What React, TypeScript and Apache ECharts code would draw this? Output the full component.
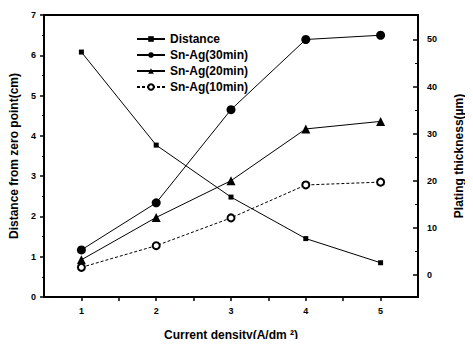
import React, { useEffect, useRef } from "react";
import * as echarts from "echarts";

const currentDensity = [1, 2, 3, 4, 5];
const distance = [6.08, 3.77, 2.48, 1.45, 0.85];
const snAg30 = [5.3, 15.3, 35.1, 50.0, 50.9];
const snAg20 = [3.2, 12.2, 20.0, 31.0, 32.6];
const snAg10 = [1.6, 6.2, 12.1, 19.1, 19.7];

const xLabels = [1, 2, 3, 4, 5];
const xTicks = [1, 1.5, 2, 2.5, 3, 3.5, 4, 4.5, 5];
const leftLabels = [0, 1, 2, 3, 4, 5, 6, 7];
const rightLabels = [0, 10, 20, 30, 40, 50];
const rightMinor = [5, 15, 25, 35, 45];

const FONT = "Liberation Sans, Arial, sans-serif";

export default function App() {
  const ref = useRef<HTMLDivElement>(null);
  useEffect(() => {
    if (!ref.current) return;
    const chart = echarts.init(ref.current, null, { renderer: "svg" });
    const pts = (ys: number[]) => currentDensity.map((x, i) => [x, ys[i]]);
    const lineBase = { color: "#000", width: 1 };
    chart.setOption({
      animation: false,
      backgroundColor: "#fff",
      textStyle: { fontFamily: FONT },
      grid: {
        left: 42,
        right: 41,
        top: 15,
        bottom: 50,
        show: true,
        borderColor: "#000",
        borderWidth: 2,
      },
      legend: {
        orient: "vertical",
        left: 131,
        top: 27,
        itemWidth: 28,
        itemHeight: 7,
        itemGap: 2,
        textStyle: { fontFamily: FONT, fontSize: 12, fontWeight: "bold", color: "#000", lineHeight: 14 },
        data: ["Distance", "Sn-Ag(30min)", "Sn-Ag(20min)", "Sn-Ag(10min)"],
      },
      xAxis: {
        type: "value",
        min: 0.5,
        max: 5.5,
        name: "Current density(A/dm ²)",
        nameLocation: "middle",
        nameGap: 32,
        nameTextStyle: { fontFamily: FONT, fontSize: 12, fontWeight: "bold", color: "#000" },
        axisLine: { lineStyle: { color: "#000", width: 2 } },
        axisTick: { customValues: xTicks, length: 4, lineStyle: { color: "#000", width: 1.5 } },
        axisLabel: {
          customValues: xLabels,
          fontFamily: FONT,
          fontSize: 9,
          fontWeight: "bold",
          color: "#000",
          margin: 9,
        },
        splitLine: { show: false },
      },
      yAxis: [
        {
          type: "value",
          position: "left",
          min: 0,
          max: 7,
          interval: 1,
          name: "Distance from zero point(cm)",
          nameLocation: "middle",
          nameGap: 24,
          nameRotate: 90,
          nameTextStyle: { fontFamily: FONT, fontSize: 12, fontWeight: "bold", color: "#000" },
          axisLine: { show: true, lineStyle: { color: "#000", width: 2 } },
          axisTick: { show: true, length: 4, lineStyle: { color: "#000", width: 1.5 } },
          minorTick: { show: true, splitNumber: 2, length: 2, lineStyle: { color: "#000", width: 1 } },
          axisLabel: {
            customValues: leftLabels,
            fontFamily: FONT,
            fontSize: 9,
            fontWeight: "bold",
            color: "#000",
            margin: 8,
          },
          splitLine: { show: false },
        },
        {
          type: "value",
          position: "right",
          min: -4.7,
          max: 55.2,
          name: "Plating thickness(µm)",
          nameLocation: "middle",
          nameGap: 35,
          nameRotate: 90,
          nameTextStyle: { fontFamily: FONT, fontSize: 12, fontWeight: "bold", color: "#000" },
          axisLine: { show: true, lineStyle: { color: "#000", width: 2 } },
          axisTick: {
            show: true,
            inside: true,
            customValues: rightLabels,
            length: 5,
            lineStyle: { color: "#000", width: 1.5 },
          },
          axisLabel: {
            customValues: rightLabels,
            fontFamily: FONT,
            fontSize: 9,
            fontWeight: "bold",
            color: "#000",
            margin: 9,
          },
          splitLine: { show: false },
        },
        {
          type: "value",
          position: "right",
          min: -4.7,
          max: 55.2,
          axisLine: { show: false },
          axisTick: {
            show: true,
            inside: true,
            customValues: rightMinor,
            length: 3,
            lineStyle: { color: "#000", width: 1 },
          },
          axisLabel: { show: false },
          splitLine: { show: false },
        },
      ],
      series: [
        {
          name: "Distance",
          type: "line",
          yAxisIndex: 0,
          data: pts(distance),
          symbol: "rect",
          symbolSize: 5,
          itemStyle: { color: "#000" },
          lineStyle: lineBase,
        },
        {
          name: "Sn-Ag(30min)",
          type: "line",
          yAxisIndex: 1,
          data: pts(snAg30),
          symbol: "circle",
          symbolSize: 9,
          itemStyle: { color: "#000" },
          lineStyle: lineBase,
        },
        {
          name: "Sn-Ag(20min)",
          type: "line",
          yAxisIndex: 1,
          data: pts(snAg20),
          symbol: "triangle",
          symbolSize: 9,
          itemStyle: { color: "#000" },
          lineStyle: lineBase,
        },
        {
          name: "Sn-Ag(10min)",
          type: "line",
          yAxisIndex: 1,
          data: pts(snAg10),
          symbol: "emptyCircle",
          symbolSize: 7,
          itemStyle: { color: "#000", borderWidth: 1 },
          lineStyle: { color: "#000", width: 1, type: [3, 2] },
        },
      ],
    });
    return () => chart.dispose();
  }, []);
  return <div ref={ref} style={{ width: 473, height: 347, margin: -8 }} />;
}
